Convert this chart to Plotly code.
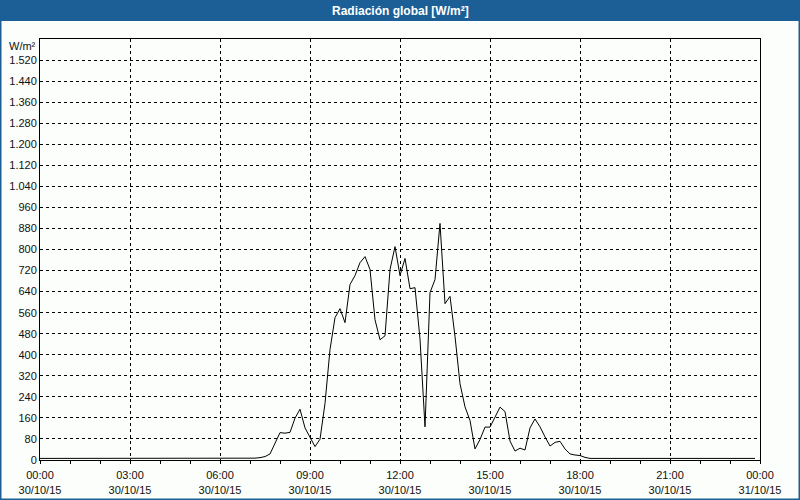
import plotly.graph_objects as go
import pandas as pd

# 10-minute samples for 30/10/15, 00:00 .. 23:50
times = pd.date_range("2015-10-30 00:00", periods=144, freq="10min")

night_am = [6] * 43  # 00:00 .. 07:00
day = [7, 9, 13, 23, 61,                      # 07:10 .. 07:50
       104, 102, 105, 159, 193, 122,          # 08:00 .. 08:50
       89, 51, 79, 215, 420, 541,             # 09:00 .. 09:50
       575, 522, 667, 701, 750, 773,          # 10:00 .. 10:50
       724, 533, 457, 472, 724, 811,          # 11:00 .. 11:50
       701, 766, 651, 655, 460, 126,          # 12:00 .. 12:50
       636, 686, 899, 594, 622, 470,          # 13:00 .. 13:50
       290, 202, 150, 42, 78, 125,            # 14:00 .. 14:50
       125, 163, 201, 184, 72, 34,            # 15:00 .. 15:50
       45, 38, 122, 156, 126, 88,             # 16:00 .. 16:50
       53, 67, 71, 42, 23, 19,                # 17:00 .. 17:50
       17, 10, 6]                             # 18:00 .. 18:20
night_pm = [6] * 33  # 18:30 .. 23:50
radiation = night_am + day + night_pm

x_tick_vals = ["2015-10-30 00:00", "2015-10-30 03:00", "2015-10-30 06:00",
               "2015-10-30 09:00", "2015-10-30 12:00", "2015-10-30 15:00",
               "2015-10-30 18:00", "2015-10-30 21:00", "2015-10-31 00:00"]
x_tick_text = ["00:00<br>30/10/15", "03:00<br>30/10/15", "06:00<br>30/10/15",
               "09:00<br>30/10/15", "12:00<br>30/10/15", "15:00<br>30/10/15",
               "18:00<br>30/10/15", "21:00<br>30/10/15", "00:00<br>31/10/15"]
y_tick_vals = list(range(0, 1600, 80))
y_tick_text = ["0", "80", "160", "240", "320", "400", "480", "560", "640", "720",
               "800", "880", "960", "1.040", "1.120", "1.200", "1.280", "1.360",
               "1.440", "1.520"]

title_text = "Radiación global [W/m²]"
unit_text = "W/m²"

BLUE = "#1c5f97"
BG = "#fbfefb"
FONT = "Liberation Sans"

fig = go.Figure()
fig.add_trace(go.Scatter(x=times, y=radiation, mode="lines",
                         line=dict(color="black", width=1), hoverinfo="x+y"))

W, H = 800, 500
L, R, T, B = 40, 40, 39, 40
pw, ph = W - L - R, H - T - B

def px_x(p):
    return (p - L) / pw

def px_y(p):
    return (H - B - p) / ph

fig.update_layout(
    width=W, height=H,
    margin=dict(l=L, r=R, t=T, b=B, autoexpand=False),
    paper_bgcolor=BG, plot_bgcolor=BG,
    showlegend=False,
    font=dict(family=FONT, size=11, color="#111111"),
    xaxis=dict(
        type="date", automargin=False,
        range=["2015-10-30 00:00", "2015-10-31 00:00"],
        tickmode="array", tickvals=x_tick_vals, ticktext=x_tick_text,
        ticks="outside", ticklen=3, tickcolor="black", ticklabelstandoff=2,
        minor=dict(ticks="outside", ticklen=3, dtick=3600000, tickcolor="black",
                   showgrid=False),
        showgrid=True, gridcolor="black", gridwidth=1, griddash="3px,3px",
        showline=True, linecolor="black", linewidth=1, mirror=True,
        zeroline=False, fixedrange=True,
        tickfont=dict(family=FONT, size=11, color="#111111"),
    ),
    yaxis=dict(
        automargin=False,
        range=[0, 1600],
        tickmode="array", tickvals=y_tick_vals, ticktext=y_tick_text,
        ticks="", showgrid=True, gridcolor="black", gridwidth=1, griddash="3px,3px",
        showline=True, linecolor="black", linewidth=1, mirror=True,
        zeroline=False, fixedrange=True,
        tickfont=dict(family=FONT, size=11, color="#111111"),
    ),
    shapes=[
        # title bar
        dict(type="rect", xref="paper", yref="paper",
             x0=px_x(0), x1=px_x(W), y0=px_y(21), y1=px_y(0),
             fillcolor=BLUE, line=dict(width=0), layer="above"),
        # window border (left, right, bottom)
        dict(type="rect", xref="paper", yref="paper",
             x0=px_x(0), x1=px_x(1.5), y0=px_y(H), y1=px_y(0),
             fillcolor=BLUE, line=dict(width=0)),
        dict(type="rect", xref="paper", yref="paper",
             x0=px_x(W - 1.5), x1=px_x(W), y0=px_y(H), y1=px_y(0),
             fillcolor=BLUE, line=dict(width=0)),
        dict(type="rect", xref="paper", yref="paper",
             x0=px_x(0), x1=px_x(W), y0=px_y(H), y1=px_y(H - 1.5),
             fillcolor=BLUE, line=dict(width=0)),
    ],
    annotations=[
        dict(text="<b>" + title_text + "</b>", xref="paper", yref="paper",
             x=0.5, y=px_y(10.5), xanchor="center", yanchor="middle",
             showarrow=False, font=dict(family=FONT, size=12, color="white")),
        dict(text=unit_text, xref="paper", yref="paper",
             x=px_x(38), y=px_y(46), xanchor="right", yanchor="middle",
             showarrow=False, font=dict(family=FONT, size=11, color="#111111")),
    ],
)

fig.write_html("out.html", config={"displayModeBar": False})
